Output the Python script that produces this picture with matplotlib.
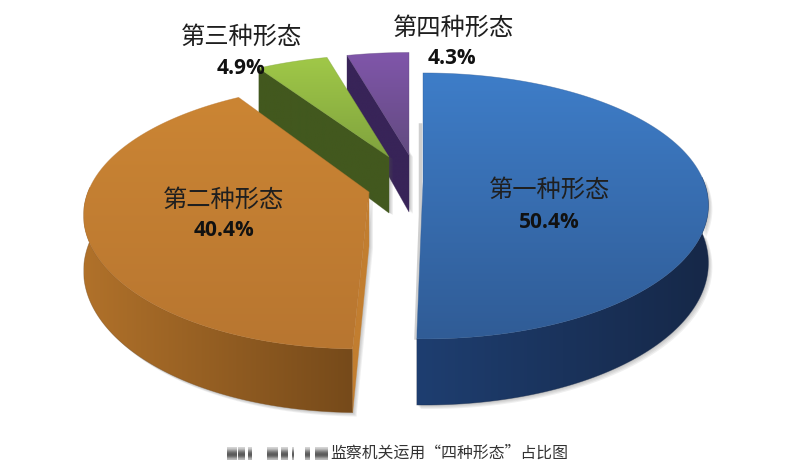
import matplotlib
matplotlib.use('Agg')
import matplotlib.pyplot as plt
import numpy as np
from matplotlib.patches import Polygon

plt.rcParams['font.family'] = ['Noto Sans CJK SC', 'DejaVu Sans']

names = ['第一种形态', '第二种形态', '第三种形态', '第四种形态']
shares = [50.4, 40.4, 4.9, 4.3]
pct_labels = ['50.4%', '40.4%', '4.9%', '4.3%']
caption = '监察机关运用“四种形态”占比图'

# layout, in pixels of the picture
apex = [(423, 182), (369, 192), (389, 157), (409, 155)]
flat = [1.0, 1.0, 0.94, 0.94]
depth = [56, 54, 56, 57]
lean = [2, -8, 0, 0]
name_pos = [(549, 190), (224, 200), (242, 37), (453, 28)]
pct_pos = [(549, 222), (224, 231), (241, 68), (452, 59)]
top_cols = [((62, 125, 200), (48, 92, 150)), ((203, 133, 52), (184, 118, 48)),
            ((160, 200, 72), (128, 163, 62)), ((128, 86, 170), (98, 74, 128))]
wall_cols = [((30, 62, 112), (22, 40, 72)), ((176, 113, 42), (118, 74, 26)),
             ((66, 88, 30), (62, 82, 28)), ((56, 36, 88), (50, 32, 78))]
cut_cols = [(30, 62, 112), (194, 126, 48), (66, 88, 30), (56, 36, 88)]
blur_x = [(227, 237), (238, 245), (248, 252), (267, 278), (281, 288), (292, 294), (305, 310), (315, 328)]

RX, RY, PERSP = 281, 133, 0.18

fig = plt.figure(figsize=(7.87, 4.66), dpi=100)
ax = fig.add_axes([0, 0, 1, 1])


def rim(i, t):
    # angle in degrees, clockwise from 12 o'clock, to a point on the top face
    t = np.radians(t)
    s, c = np.sin(t), -np.cos(t)
    k = 1 + PERSP * c
    x = apex[i][0] + RX * s * k + lean[i] * np.clip(c, 0, 1) ** 4
    return x, apex[i][1] + RY * flat[i] * c * k, c


def down(i, x, y, c):
    return x, y + depth[i] * (1 + PERSP * c)


def shaded(xy, c0, c1, horizontal, z):
    # gradient image clipped to a polygon
    xy = np.asarray(xy)
    x0, y0 = xy.min(axis=0)
    x1, y1 = xy.max(axis=0)
    g = np.linspace(0, 1, 64)
    g = g[None, :] if horizontal else g[:, None]
    img = np.array(c0)[None, None, :] / 255 * (1 - g[..., None]) + np.array(c1)[None, None, :] / 255 * g[..., None]
    im = ax.imshow(img, extent=(x0, x1, y1, y0), aspect='auto', zorder=z, interpolation='bilinear')
    p = Polygon(xy, closed=True, fc='none', ec='none', transform=ax.transData)
    ax.add_patch(p)
    im.set_clip_path(p)
    ax.add_patch(Polygon(xy, closed=True, fc='none', ec=tuple(v / 255 for v in c1), lw=0.5, alpha=0.5, zorder=z))


def soft_shadow(xy, dx, dy, z):
    xy = np.asarray(xy, dtype=float)
    for n in range(1, 5):
        ax.add_patch(Polygon(xy + [dx * n, dy * n], closed=True, fc='#555555', ec='none', alpha=0.09, zorder=z))


ends = np.cumsum(shares) * 3.6
starts = np.concatenate([[0], ends[:-1]])

# back slices first, the big front ones last
for z_base, i in zip([10, 20, 30, 40], [3, 2, 1, 0]):
    t = np.linspace(starts[i], ends[i], 160)
    x, y, c = rim(i, t)
    bx, by = down(i, x, y, c)
    ax_, ay_ = apex[i]
    top = np.vstack([[(ax_, ay_)], np.column_stack([x, y])])

    # outer wall, the part that faces the viewer
    front = c > -0.05
    if front.any():
        wall = np.vstack([np.column_stack([x[front], y[front]]),
                          np.column_stack([bx[front], by[front]])[::-1]])
        soft_shadow(wall, 1, 1, z_base)
        shaded(wall, wall_cols[i][0], wall_cols[i][1], True, z_base + 1)

    # cut face at the start of the slice, the blue one faces away
    if i != 0:
        ax2, ay2 = down(i, ax_, ay_, 0)
        bsx, bsy = down(i, x[0], y[0], c[0])
        cut = [(ax_, ay_), (x[0], y[0]), (bsx, bsy), (ax2, ay2)]
        soft_shadow(cut, 1, 0.5, z_base)
        shaded(cut, cut_cols[i], cut_cols[i], True, z_base + 2)

    shaded(top, top_cols[i][0], top_cols[i][1], False, z_base + 3)

# grey edge left of the blue slice
ax.plot([420.5, 420.5, 416], [125, 215, 338], color='#777777', lw=2.5, alpha=0.35, zorder=35)

for i in range(4):
    ax.text(*name_pos[i], names[i], ha='center', va='center', fontsize=17.5, fontweight='medium',
            color='#1f1f1f', zorder=60)
    ax.text(*pct_pos[i], pct_labels[i], ha='center', va='center', fontsize=15, fontweight='bold',
            family='Open Sans', color='#111111', zorder=60)

ax.text(449, 453, caption, ha='center', va='center', fontsize=11.4, color='#333333', zorder=60)
for x0, x1 in blur_x:
    ax.imshow(np.array([[0.85], [0.55], [0.35], [0.35], [0.75]]), cmap='gray', vmin=0, vmax=1,
              extent=(x0, x1, 460, 447), aspect='auto', interpolation='bicubic', zorder=55)

ax.set_xlim(0, 787)
ax.set_ylim(466, 0)
ax.axis('off')
fig.savefig('out.png', dpi=100, facecolor='white')
